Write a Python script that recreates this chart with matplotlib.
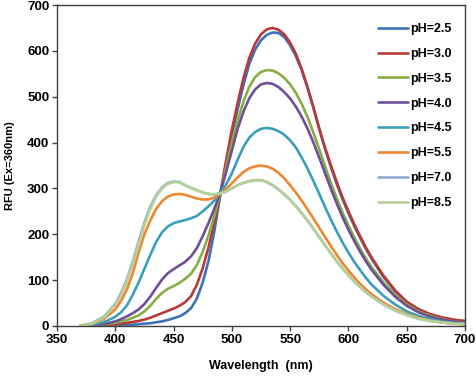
import matplotlib
matplotlib.use("Agg")
import matplotlib.pyplot as plt

wavelength = ([370, 380, 390] + list(range(400, 621, 5)) +
              [630, 640, 650, 660, 670, 680, 690, 700])

ph_2_5 = [0, 0, 1,
          2, 2, 3, 3, 4, 5, 6, 8, 10, 13,
          17, 21, 28, 39, 60, 95, 142, 207, 284, 354,
          417, 473, 526, 572, 603, 623, 635, 640, 639, 630,
          612, 588, 557, 519, 476, 430, 386, 346, 309, 276,
          246, 218, 192, 168, 146,
          107, 76, 52, 36, 25, 18, 13, 10]
ph_3_0 = [0, 1, 2,
          4, 5, 7, 9, 11, 14, 18, 23, 28, 33,
          38, 44, 52, 65, 90, 126, 172, 226, 288, 360,
          428, 487, 541, 585, 616, 636, 647, 650, 646, 636,
          618, 593, 560, 520, 476, 430, 388, 350, 314, 280,
          250, 222, 196, 171, 149,
          110, 78, 53, 37, 26, 19, 14, 11]
ph_3_5 = [0, 1, 3,
          7, 10, 13, 18, 23, 32, 44, 59, 72, 81,
          87, 94, 103, 114, 133, 162, 198, 240, 289, 345,
          400, 448, 490, 522, 543, 554, 558, 557, 551, 541,
          527, 508, 484, 455, 421, 385, 348, 312, 278, 247,
          219, 193, 169, 147, 128,
          95, 68, 47, 32, 22, 15, 10, 7]
ph_4_0 = [0, 1, 4,
          10, 15, 21, 28, 36, 48, 64, 83, 101, 115,
          124, 132, 140, 152, 170, 196, 225, 256, 290, 335,
          383, 430, 468, 497, 516, 527, 530, 528, 521, 510,
          496, 478, 456, 430, 400, 367, 333, 299, 267, 237,
          210, 185, 162, 141, 122,
          90, 64, 44, 30, 20, 14, 10, 7]
ph_4_5 = [0, 2, 8,
          20, 30, 45, 68, 95, 125, 155, 183, 204, 217,
          224, 228, 231, 235, 240, 250, 261, 274, 290, 308,
          333, 363, 391, 411, 423, 430, 432, 430, 425, 417,
          405, 389, 367, 343, 316, 288, 259, 232, 206, 182,
          160, 140, 122, 105, 90,
          66, 47, 32, 22, 15, 10, 7, 5]
ph_5_5 = [1, 4, 15,
          36, 55, 80, 115, 160, 200, 230, 255, 272, 282,
          287, 288, 286, 282, 278, 276, 276, 280, 288, 298,
          311, 324, 336, 344, 348, 350, 348, 343, 334, 322,
          307, 291, 273, 254, 234, 214, 194, 174, 155, 137,
          121, 106, 92, 80, 69,
          51, 37, 26, 18, 12, 8, 6, 4]
ph_7_0 = [1, 6, 20,
          48, 72, 102, 141, 184, 226, 260, 285, 302, 312,
          315, 314, 307, 301, 296, 291, 288, 287, 289, 293,
          300, 307, 312, 316, 318, 318, 314, 307, 298, 287,
          275, 261, 246, 230, 212, 194, 176, 158, 141, 125,
          111, 97, 85, 74, 64,
          47, 34, 24, 16, 11, 8, 5, 4]
ph_8_5 = [1, 5, 18,
          45, 68, 97, 135, 178, 220, 255, 282, 300, 310,
          314, 313, 307, 301, 296, 291, 288, 287, 289, 293,
          300, 307, 312, 316, 318, 318, 314, 307, 298, 287,
          275, 261, 246, 230, 212, 194, 176, 158, 141, 125,
          111, 97, 85, 74, 64,
          47, 34, 24, 16, 11, 8, 5, 4]

series = [ph_2_5, ph_3_0, ph_3_5, ph_4_0, ph_4_5, ph_5_5, ph_7_0, ph_8_5]
labels = ["pH=2.5", "pH=3.0", "pH=3.5", "pH=4.0", "pH=4.5", "pH=5.5", "pH=7.0", "pH=8.5"]
colors = ["#3D72B8", "#B83A37", "#86AE42", "#6F4F98", "#3AA0BA", "#EE8731", "#8FAAD6", "#B5D193"]

x_ticks = [350, 400, 450, 500, 550, 600, 650, 700]
y_ticks = [0, 100, 200, 300, 400, 500, 600, 700]

plt.rcParams['font.family'] = ['Liberation Sans', 'DejaVu Sans']

fig = plt.figure(figsize=(4.77, 3.79), dpi=100)
ax = fig.add_axes([57/477, 1 - 326/379, (465 - 57)/477, (326 - 5)/379])

for ys, lab, c in zip(series, labels, colors):
    ax.plot(wavelength, ys, color=c, lw=1.9, label=lab,
            solid_capstyle='round', solid_joinstyle='round')

ax.set_xlim(350, 700)
ax.set_ylim(0, 700)
ax.set_xticks(x_ticks)
ax.set_yticks(y_ticks)
for lbl in ax.get_xticklabels() + ax.get_yticklabels():
    lbl.set_fontweight('bold')
    lbl.set_fontsize(9.5)
ax.tick_params(direction='out', length=3.5, width=1, color='#404040', pad=2)
for s in ax.spines.values():
    s.set_color('#404040')
    s.set_linewidth(1.0)

ax.set_xlabel("Wavelength  (nm)", fontsize=9, fontweight='bold', labelpad=10)
ax.set_ylabel("RFU (Ex=360nm)", fontsize=8, fontweight='bold', labelpad=9)

leg = ax.legend(loc='upper left', bbox_to_anchor=(378/477, 1 - 23/379),
                bbox_transform=fig.transFigure, frameon=False,
                prop={'weight': 'bold', 'size': 9}, handlelength=2.4,
                handletextpad=0.15, labelspacing=1.03, borderpad=0, borderaxespad=0)

fig.savefig("out.png", dpi=100)
